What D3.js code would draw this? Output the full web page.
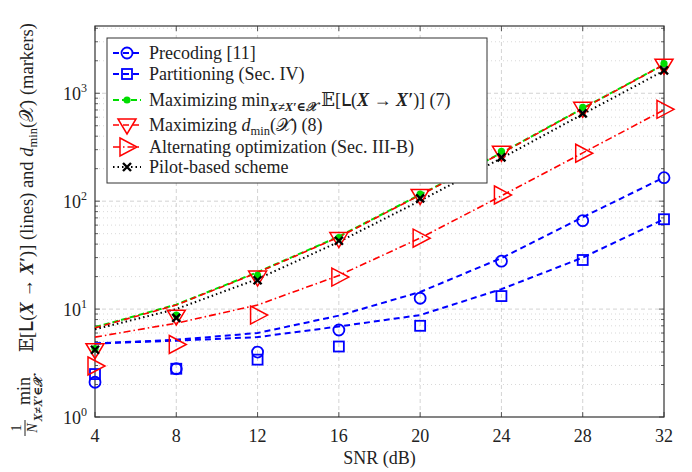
<!DOCTYPE html>
<html>
<head>
<meta charset="utf-8">
<script src="https://cdn.jsdelivr.net/npm/d3@7"></script>
<style>
  body { margin: 0; background: #fff; }
  text { font-family: "Liberation Serif", "DejaVu Serif", serif; fill: #222; }
</style>
</head>
<body>
<svg id="chart" width="692" height="472"></svg>
<script>
// data
const snr = [4, 8, 12, 16, 20, 24, 28, 32]
const precLine  = [4.8, 5.2, 6.0, 8.7, 14.4, 29.7, 71, 166]
const precMark  = [2.1, 2.8, 4.0, 6.4, 12.6, 27.8, 66, 165]
const partLine  = [4.8, 5.1, 5.5, 6.9, 8.8, 15.3, 30, 68]
const partMark  = [2.5, 2.8, 3.4, 4.5, 7.0, 13.2, 28.5, 68]
const maxELine  = [6.8, 11, 22, 47, 115, 280, 725, 1850]
const maxEMark  = [4.3, 8.8, 20.5, 46, 116, 290, 740, 1880]
const dminLine  = [6.7, 10.9, 21.8, 46.5, 114, 278, 720, 1840]
const dminMark  = [4.2, 8.6, 19.8, 45, 113, 284, 725, 1820]
const altLine   = [5.5, 7.4, 10.9, 20.5, 45.5, 112, 280, 700]
const altMark   = [2.97, 4.7, 8.8, 19.8, 45.4, 114, 278, 710]
const pilotLine = [6.5, 10, 19, 42, 101, 250, 640, 1620]
const pilotMark = [4.2, 8.3, 18.5, 43, 106, 255, 650, 1630]
const xTicks = [4, 8, 12, 16, 20, 24, 28, 32]
const yDecades = [1, 10, 100, 1000]

const svg = d3.select("#chart")
const width = 692, height = 472
const margin = {top: 26, right: 28, bottom: 55, left: 95}

const x = d3.scaleLinear()
  .domain([4, 32])
  .range([margin.left, width - margin.right])

const y = d3.scaleLog()
  .domain([1, 4200])
  .range([height - margin.bottom, margin.top])

const x0 = margin.left, x1 = width - margin.right
const y0 = height - margin.bottom, y1 = margin.top

// minor grid (dotted)
const minorVals = []
for (let e = 0; e < 4; e++) for (let m = 2; m <= 9; m++) {
  const v = m * Math.pow(10, e)
  if (v < 4200) minorVals.push(v)
}
svg.append("g").selectAll("line")
  .data(minorVals).enter().append("line")
    .attr("x1", x0).attr("x2", x1)
    .attr("y1", d => y(d)).attr("y2", d => y(d))
    .attr("stroke", "#cfcfcf").attr("stroke-width", 0.8)
    .attr("stroke-dasharray", "1,3")

// major grid (dashed)
svg.append("g").selectAll("line")
  .data(yDecades.slice(1)).enter().append("line")
    .attr("x1", x0).attr("x2", x1)
    .attr("y1", d => y(d)).attr("y2", d => y(d))
    .attr("stroke", "#c8c8c8").attr("stroke-width", 0.8)
    .attr("stroke-dasharray", "4,3")
svg.append("g").selectAll("line")
  .data(xTicks.slice(1, -1)).enter().append("line")
    .attr("x1", d => x(d)).attr("x2", d => x(d))
    .attr("y1", y0).attr("y2", y1)
    .attr("stroke", "#c8c8c8").attr("stroke-width", 0.8)
    .attr("stroke-dasharray", "4,3")

// ticks inside on all four sides
const tk = svg.append("g").attr("stroke", "#333").attr("stroke-width", 0.8)
xTicks.forEach(t => {
  tk.append("line").attr("x1", x(t)).attr("x2", x(t)).attr("y1", y0).attr("y2", y0 - 5)
  tk.append("line").attr("x1", x(t)).attr("x2", x(t)).attr("y1", y1).attr("y2", y1 + 5)
})
yDecades.forEach(t => {
  tk.append("line").attr("x1", x0).attr("x2", x0 + 5).attr("y1", y(t)).attr("y2", y(t))
  tk.append("line").attr("x1", x1).attr("x2", x1 - 5).attr("y1", y(t)).attr("y2", y(t))
})
minorVals.forEach(t => {
  tk.append("line").attr("x1", x0).attr("x2", x0 + 3).attr("y1", y(t)).attr("y2", y(t))
  tk.append("line").attr("x1", x1).attr("x2", x1 - 3).attr("y1", y(t)).attr("y2", y(t))
})

// frame
svg.append("rect")
  .attr("x", x0).attr("y", y1)
  .attr("width", x1 - x0).attr("height", y0 - y1)
  .attr("fill", "none").attr("stroke", "#333").attr("stroke-width", 1.2)

// tick labels
svg.append("g").selectAll("text")
  .data(xTicks).enter().append("text")
    .attr("x", d => x(d)).attr("y", y0 + 25)
    .attr("text-anchor", "middle").attr("font-size", 18)
    .text(d => d)

const yl = svg.append("g").selectAll("text")
  .data(yDecades).enter().append("text")
    .attr("x", x0 - 8).attr("y", d => y(d) + 7)
    .attr("text-anchor", "end").attr("font-size", 18)
yl.append("tspan").text("10")
yl.append("tspan").attr("dy", -8).attr("font-size", 12).text(d => Math.round(Math.log10(d)))

svg.append("text")
  .attr("x", (x0 + x1) / 2).attr("y", height - 8)
  .attr("text-anchor", "middle").attr("font-size", 18)
  .text("SNR (dB)")

// y label (rotated): local x = -screen y, local y = screen x - 33
const yg = svg.append("g").attr("transform", "translate(33,0) rotate(-90)")
yg.append("text").attr("x", -428).attr("y", -12).attr("text-anchor", "middle")
  .attr("font-size", 14).text("1")
yg.append("line").attr("x1", -436).attr("x2", -420).attr("y1", -8).attr("y2", -8)
  .attr("stroke", "#222").attr("stroke-width", 1)
yg.append("text").attr("x", -428).attr("y", 4).attr("text-anchor", "middle")
  .attr("font-size", 14).attr("font-style", "italic").text("N")
yg.append("text").attr("x", -391).attr("y", -3).attr("text-anchor", "middle")
  .attr("font-size", 18).text("min")
yg.append("text").attr("x", -399).attr("y", 9).attr("text-anchor", "middle")
  .attr("font-size", 12).attr("font-weight", "bold").attr("font-style", "italic").text("X≠X′∈𝒳")
const ym = yg.append("text").attr("x", -352).attr("y", 0).attr("font-size", 18.5)
ym.append("tspan").text("𝔼[𝖫(")
ym.append("tspan").attr("font-weight", "bold").attr("font-style", "italic").text("X")
ym.append("tspan").text(" → ")
ym.append("tspan").attr("font-weight", "bold").attr("font-style", "italic").text("X′")
ym.append("tspan").text(")]  (lines) and ")
ym.append("tspan").attr("font-style", "italic").text("d")
ym.append("tspan").attr("font-size", 12.5).attr("dy", 4).text("min")
ym.append("tspan").attr("dy", -4).text("(𝒳)  (markers)")

// series
const series = [
  {line: precLine, mark: precMark, color: "#0000ff", dash: "6,4", w: 2, sym: "circle"},
  {line: partLine, mark: partMark, color: "#0000ff", dash: "6,4", w: 2, sym: "square"},
  {line: maxELine, mark: maxEMark, color: "#00dd00", dash: "6,3", w: 2, sym: "dot"},
  {line: dminLine, mark: dminMark, color: "#ff0000", dash: "6,4", w: 1.6, sym: "tridown"},
  {line: altLine, mark: altMark, color: "#ff0000", dash: "7,3,1.5,3", w: 1.6, sym: "triright"},
  {line: pilotLine, mark: pilotMark, color: "#000000", dash: "1.5,3", w: 2, sym: "cross"}
]

const line = d3.line()
  .x((d, i) => x(snr[i]))
  .y(d => y(d))

series.forEach(s => {
  svg.append("path")
    .attr("fill", "none")
    .attr("stroke", s.color)
    .attr("stroke-width", s.w)
    .attr("stroke-dasharray", s.dash)
    .attr("d", line(s.line))
})

function drawMarker(g, sym, color, cx, cy) {
  if (sym === "circle") {
    g.append("circle").attr("cx", cx).attr("cy", cy).attr("r", 5.5)
      .attr("fill", "none").attr("stroke", color).attr("stroke-width", 1.8)
  } else if (sym === "square") {
    g.append("rect").attr("x", cx - 5).attr("y", cy - 5).attr("width", 10).attr("height", 10)
      .attr("fill", "none").attr("stroke", color).attr("stroke-width", 1.8)
  } else if (sym === "dot") {
    g.append("circle").attr("cx", cx).attr("cy", cy).attr("r", 3.6).attr("fill", color)
  } else if (sym === "tridown") {
    g.append("path")
      .attr("d", `M${cx - 9},${cy - 6}L${cx + 9},${cy - 6}L${cx},${cy + 9}Z`)
      .attr("fill", "none").attr("stroke", color).attr("stroke-width", 1.5)
  } else if (sym === "triright") {
    g.append("path")
      .attr("d", `M${cx - 7},${cy - 9}L${cx + 10},${cy}L${cx - 7},${cy + 9}Z`)
      .attr("fill", "none").attr("stroke", color).attr("stroke-width", 1.5)
  } else if (sym === "cross") {
    g.append("path")
      .attr("d", `M${cx - 4},${cy - 4}L${cx + 4},${cy + 4}M${cx - 4},${cy + 4}L${cx + 4},${cy - 4}`)
      .attr("stroke", color).attr("stroke-width", 2.4)
  }
}

// markers: red triangles first so green dots and crosses sit on top
const order = [0, 1, 4, 3, 2, 5]
order.forEach(k => {
  const s = series[k]
  const g = svg.append("g")
  s.mark.forEach((v, i) => drawMarker(g, s.sym, s.color, x(snr[i]), y(v)))
})

// legend
const lg = svg.append("g")
lg.append("rect")
  .attr("x", 107).attr("y", 38).attr("width", 380).attr("height", 145)
  .attr("fill", "#fff").attr("stroke", "#333").attr("stroke-width", 1)
const legY = [53, 74, 100, 125, 147, 167]
series.forEach((s, i) => {
  const ly = legY[i]
  lg.append("line")
    .attr("x1", 113).attr("x2", 141).attr("y1", ly).attr("y2", ly)
    .attr("stroke", s.color).attr("stroke-width", s.w)
    .attr("stroke-dasharray", s.dash)
  drawMarker(lg, s.sym, s.color, 127, ly)
})
const lt = lg.selectAll("text.lab")
  .data(legY).enter().append("text")
    .attr("class", "lab")
    .attr("x", 149).attr("y", d => d + 6)
    .attr("font-size", 18)
lt.filter((d, i) => i === 0).text("Precoding [11]")
lt.filter((d, i) => i === 1).text("Partitioning (Sec. IV)")
const t2 = lt.filter((d, i) => i === 2)
t2.append("tspan").text("Maximizing min")
t2.append("tspan").attr("font-size", 12.5).attr("dy", 5).attr("font-weight", "bold").attr("font-style", "italic").text("X≠X′∈𝒳")
t2.append("tspan").attr("dy", -5).text("  𝔼[𝖫(")
t2.append("tspan").attr("font-weight", "bold").attr("font-style", "italic").text("X")
t2.append("tspan").text(" → ")
t2.append("tspan").attr("font-weight", "bold").attr("font-style", "italic").text("X′")
t2.append("tspan").text(")]  (7)")
const t3 = lt.filter((d, i) => i === 3)
t3.append("tspan").text("Maximizing ")
t3.append("tspan").attr("font-style", "italic").text("d")
t3.append("tspan").attr("font-size", 12.5).attr("dy", 4).text("min")
t3.append("tspan").attr("dy", -4).text("(𝒳) (8)")
lt.filter((d, i) => i === 4).text("Alternating optimization (Sec. III-B)")
lt.filter((d, i) => i === 5).text("Pilot-based scheme")
</script>
</body>
</html>
